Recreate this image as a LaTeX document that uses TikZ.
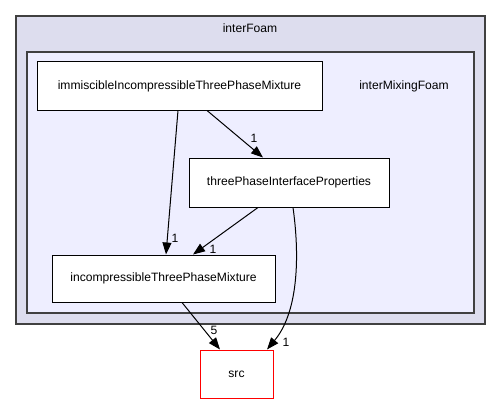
\documentclass[tikz,border=0pt]{standalone}
\usepackage{fontspec}
\setmainfont{Liberation Sans}
\usetikzlibrary{arrows.meta}
\definecolor{outerfill}{HTML}{DDDDEE}
\definecolor{innerfill}{HTML}{EEEEFF}
\definecolor{dirline}{HTML}{404040}
\begin{document}
\begin{tikzpicture}[x=1pt,y=-1pt,
    dirnode/.style ={draw, fill=white, line width=1pt, inner sep=0pt, font=\fontsize{12.1}{14}\selectfont},
    dep/.style ={draw, line width=1pt, -{Triangle[length=12pt,width=9pt]}},
    num/.style ={font=\fontsize{12.1}{14}\selectfont, inner sep=0pt}]
   \useasboundingbox (0,0) rectangle (501,404);
   \draw[dirline, fill=outerfill, line width=1.2pt] (16,16) rectangle (485,324);
   \draw[dirline, fill=innerfill, line width=1.2pt] (27,52) rectangle (474,313);
   \node[num] (outer) at (250,28) {interFoam};
   \node[num] (inner) at (404,86) {interMixingFoam};
   \node[dirnode, minimum width=285pt, minimum height=48pt] (immis) at (179.5,86) {immiscibleIncompressibleThreePhaseMixture};
   \node[dirnode, minimum width=200pt, minimum height=49pt] (tpip) at (289,182.5) {threePhaseInterfaceProperties};
   \node[dirnode, minimum width=223pt, minimum height=47pt] (incomp) at (163.5,278.5) {incompressibleThreePhaseMixture};
   \node[dirnode, draw=red, minimum width=73pt, minimum height=48pt] (src) at (236.5,374) {src};
   \draw[dep] (immis.south -| 178,0) -- (incomp.north -| 166,0);
   \draw[dep] (immis.south -| 207,0) -- (tpip.north -| 263,0);
   \draw[dep] (tpip.south -| 258,0) -- (incomp.north -| 193,0);
   \draw[dep] (tpip.south -| 293,0) .. controls (299,250) and (300,310) .. (src.north -| 267,0);
   \draw[dep] (incomp.south -| 182,0) -- (src.north -| 220,0);
   \node[num] (l1) at (175,238) {1};
   \node[num] (l2) at (254,138) {1};
   \node[num] (l3) at (213,249) {1};
   \node[num] (l4) at (286,342) {1};
   \node[num] (l5) at (214,330) {5};
\end{tikzpicture}
\end{document}
